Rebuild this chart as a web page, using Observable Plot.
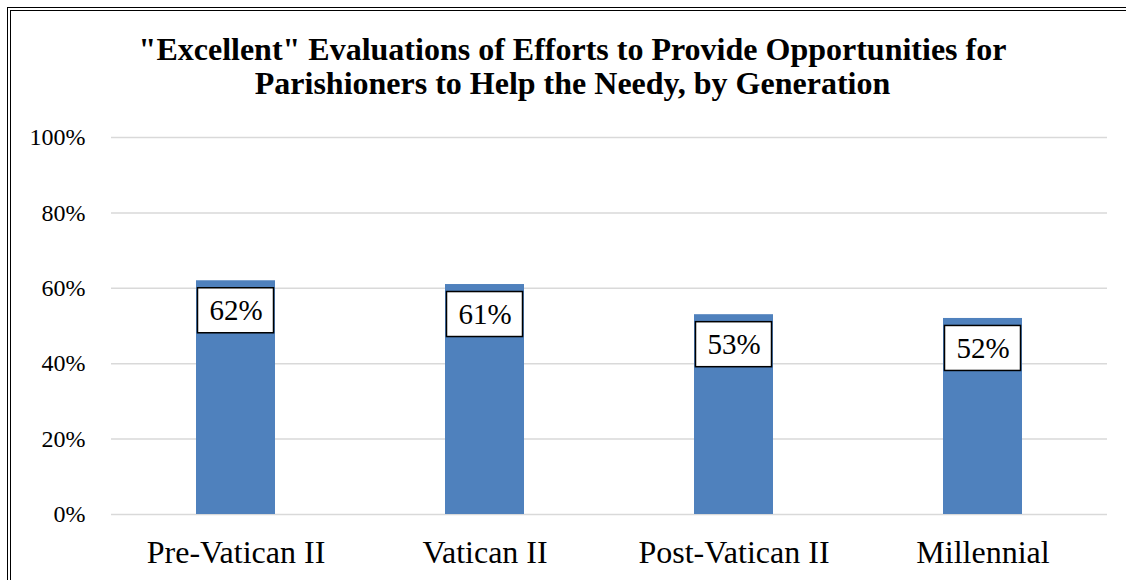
<!DOCTYPE html>
<html>
<head>
<meta charset="utf-8">
<script src="https://cdn.jsdelivr.net/npm/d3@7"></script>
<script src="https://cdn.jsdelivr.net/npm/@observablehq/plot@0.6"></script>
<style>
  html, body { margin: 0; padding: 0; background: #fff; }
  body { width: 1126px; height: 580px; position: relative; overflow: hidden; font-family: "Liberation Serif", "Times New Roman", serif; }
  .frame-outer { position: absolute; left: 7px; top: 7px; width: 1400px; height: 800px; border-left: 1px solid #000; border-top: 1px solid #000; }
  .frame-inner { position: absolute; left: 10px; top: 10px; width: 1400px; height: 800px; border-left: 1px solid #000; border-top: 1px solid #000; }
  #title { position: absolute; left: 20px; width: 1105px; top: 32px; text-align: center; font-weight: bold; font-size: 32px; line-height: 34px; color: #000; }
  #chart { position: absolute; left: 0; top: 115px; }
</style>
</head>
<body>
<div class="frame-outer"></div>
<div class="frame-inner"></div>
<div id="title">"Excellent" Evaluations of Efforts to Provide Opportunities for<br>Parishioners to Help the Needy, by Generation</div>
<div id="chart"></div>
<script>
const generations = ["Pre-Vatican II", "Vatican II", "Post-Vatican II", "Millennial"];
const excellentShare = [0.62, 0.61, 0.53, 0.52];
const yTicks = [0, 0.2, 0.4, 0.6, 0.8, 1.0];

const data = generations.map((g, i) => ({generation: g, value: excellentShare[i]}));
const serif = "Liberation Serif, Times New Roman, serif";

const chart = Plot.plot({
  width: 1126,
  height: 465,
  marginLeft: 111,
  marginRight: 19,
  marginTop: 22,
  marginBottom: 66,
  style: {fontFamily: serif, background: "transparent", color: "#000"},
  x: {domain: generations, paddingInner: 0.683, paddingOuter: 0.3415, label: null},
  y: {domain: [0, 1], label: null},
  marks: [
    Plot.ruleY(yTicks, {stroke: "#d9d9d9", strokeWidth: 1.5}),
    Plot.barY(data, {x: "generation", y: "value", fill: "#4f81bd"}),
    Plot.rect(data, {x: "generation", y1: "value", y2: "value", insetTop: 7.5, insetBottom: -52.5, insetLeft: 1.5, insetRight: 1.5, fill: "#fff", stroke: "#000", strokeWidth: 1.5}),
    Plot.text(data, {x: "generation", y: "value", dy: 30, text: d => Math.round(d.value * 100) + "%", fontSize: 29, fontFamily: serif, fill: "#000", lineAnchor: "middle"}),
    Plot.axisY({ticks: yTicks, tickFormat: d => Math.round(d * 100) + "%", tickSize: 0, tickPadding: 26, fontSize: 24, fontFamily: serif, label: null}),
    Plot.axisX({tickSize: 0, tickPadding: 26, fontSize: 32, fontFamily: serif, label: null})
  ]
});
document.getElementById("chart").appendChild(chart);
</script>
</body>
</html>
